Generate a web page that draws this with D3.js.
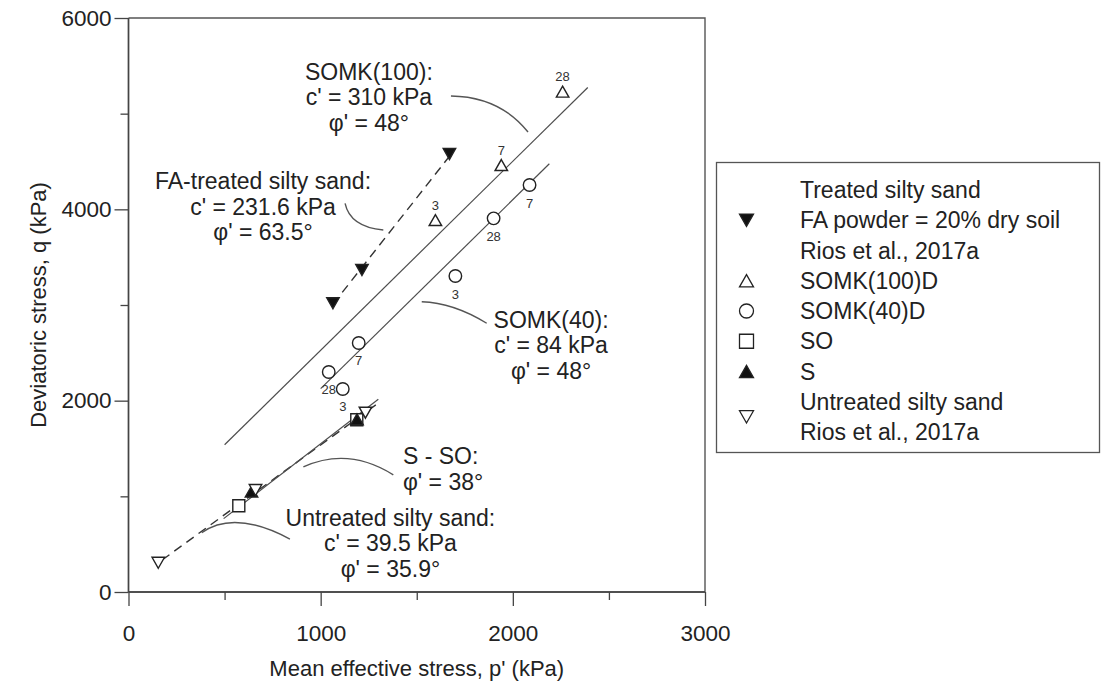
<!DOCTYPE html>
<html>
<head>
<meta charset="utf-8">
<script src="https://cdn.jsdelivr.net/npm/d3@7"></script>
<style>
  html, body { margin: 0; padding: 0; background: #fff; }
  svg { display: block; font-family: "Liberation Sans", Arial, sans-serif; }
</style>
</head>
<body>
<svg id="chart" width="1103" height="686"></svg>
<script>
// ---- Measured points (p' in kPa, q in kPa); age = curing days ----
const faTreated = [
  { p: 1064, q: 3018 }, { p: 1215, q: 3366 }, { p: 1670, q: 4578 }
];
const somk100 = [
  { p: 1597, q: 3888, age: "3" }, { p: 1940, q: 4463, age: "7" }, { p: 2259, q: 5230, age: "28" }
];
const somk40 = [
  { p: 1042, q: 2300, age: "28" }, { p: 1115, q: 2122, age: "3" }, { p: 1198, q: 2603, age: "7" },
  { p: 1701, q: 3303, age: "3" }, { p: 1900, q: 3906, age: "28" }, { p: 2087, q: 4254, age: "7" }
];
const soPoints = [ { p: 574, q: 902 }, { p: 1188, q: 1800 } ];
const sPoints = [ { p: 640, q: 1050 }, { p: 1189, q: 1805 } ];
const untreated = [ { p: 155, q: 306 }, { p: 661, q: 1066 }, { p: 1233, q: 1874 } ];

// ---- Failure envelopes: cohesion c' (kPa), friction angle phi' (deg), p' extent ----
const envelopes = [
  { name: "SOMK(100)", c: 310, phi: 48, pFrom: 500, pTo: 2390, dashed: false },
  { name: "SOMK(40)", c: 84, phi: 48, pFrom: 1000, pTo: 2190, dashed: false },
  { name: "FA-treated", c: 231.6, phi: 63.5, pFrom: 1064, pTo: 1670, dashed: true },
  { name: "Untreated", c: 39.5, phi: 35.9, pFrom: 175, pTo: 1290, dashed: true },
  { name: "S - SO", c: 0, phi: 38, pFrom: 495, pTo: 1300, dashed: false }
];

// ---- Axis ticks ----
const xTicksMajor = [0, 1000, 2000, 3000];
const xTicksMinor = [500, 1500, 2500];
const yTicksMajor = [0, 2000, 4000, 6000];
const yTicksMinor = [1000, 3000, 5000];

// ---- Envelope annotations (anchor in p'/q units) and their leader curves ----
const annotations = [
  { lines: ["SOMK(100):", "c' = 310 kPa", "\u03C6' = 48\u00B0"], p: 1251, q: 5352, anchor: "middle" },
  { lines: ["FA-treated silty sand:", "c' = 231.6 kPa", "\u03C6' = 63.5\u00B0"], p: 700, q: 4212, anchor: "middle" },
  { lines: ["SOMK(40):", "c' = 84 kPa", "\u03C6' = 48\u00B0"], p: 2199, q: 2760, anchor: "middle" },
  { lines: ["S - SO:", "\u03C6' = 38\u00B0"], p: 1428, q: 1333, anchor: "start" },
  { lines: ["Untreated silty sand:", "c' = 39.5 kPa", "\u03C6' = 35.9\u00B0"], p: 1363, q: 690, anchor: "middle" }
];
const leaders = [
  [[1678, 5185], [1933, 5177], [2079, 4808]],
  [[1127, 4063], [1153, 3818], [1326, 3784]],
  [[1526, 3034], [1690, 3024], [1864, 2809]],
  [[910, 1308], [1144, 1521], [1378, 1225]],
  [[381, 620], [550, 864], [840, 553]]
];

// ---- Legend entries ----
const legendEntries = [
  { shape: "triDownFilled", lines: ["Treated silty sand", "FA powder = 20% dry soil", "Rios et al., 2017a"] },
  { shape: "triUp", lines: ["SOMK(100)D"] },
  { shape: "circle", lines: ["SOMK(40)D"] },
  { shape: "square", lines: ["SO"] },
  { shape: "triUpFilled", lines: ["S"] },
  { shape: "triDown", lines: ["Untreated silty sand", "Rios et al., 2017a"] }
];

const svg = d3.select("#chart");
const ink = "#222";
const lineGrey = "#4d4d4d";

const x = d3.scaleLinear().domain([0, 3000]).range([128.5, 705]);
const y = d3.scaleLinear().domain([0, 6000]).range([592, 18]);

// ---- Frame (top / right) ----
svg.append("path")
  .attr("d", `M${x(0)},${y(6000)}H${x(3000)}V${y(0)}`)
  .attr("fill", "none").attr("stroke", "#555").attr("stroke-width", 1.4);

// ---- Axes ----
const xAxis = svg.append("g").attr("transform", `translate(0,${y(0)})`);
xAxis.call(d3.axisBottom(x).tickValues(xTicksMajor).tickSize(14).tickPadding(19).tickFormat(d3.format("d")));
xAxis.append("g").call(d3.axisBottom(x).tickValues(xTicksMinor).tickSize(8).tickFormat(""));
const yAxis = svg.append("g").attr("transform", `translate(${x(0)},0)`);
yAxis.call(d3.axisLeft(y).tickValues(yTicksMajor).tickSize(14).tickPadding(3).tickFormat(d3.format("d")));
yAxis.append("g").call(d3.axisLeft(y).tickValues(yTicksMinor).tickSize(8).tickFormat(""));
svg.selectAll(".domain").attr("stroke", "#444").attr("stroke-width", 1.4);
svg.selectAll(".tick line").attr("stroke", "#444").attr("stroke-width", 1.3);
svg.selectAll(".tick text").attr("font-size", 22.5).attr("fill", ink)
  .attr("font-family", "Liberation Sans, Arial, sans-serif");
// keep axis lines to the data extent (no outer ticks)
xAxis.selectAll(".domain").attr("d", `M${x(0)},0H${x(3000)}`);
yAxis.selectAll(".domain").attr("d", `M0,${y(0)}V${y(6000)}`);

svg.append("text")
  .attr("x", (x(0) + x(3000)) / 2).attr("y", 676)
  .attr("text-anchor", "middle").attr("font-size", 22).attr("fill", ink)
  .text("Mean effective stress, p' (kPa)");
svg.append("text")
  .attr("transform", `translate(46,${(y(0) + y(6000)) / 2}) rotate(-90)`)
  .attr("text-anchor", "middle").attr("font-size", 22).attr("fill", ink)
  .text("Deviatoric stress, q (kPa)");

// ---- Envelopes: q = c'·6cosφ/(3−sinφ) + p'·6sinφ/(3−sinφ) ----
function envelopeQ(env, p) {
  const r = env.phi * Math.PI / 180;
  const s = Math.sin(r), c = Math.cos(r);
  return env.c * 6 * c / (3 - s) + p * 6 * s / (3 - s);
}
const lineGen = d3.line().x(d => x(d[0])).y(d => y(d[1]));
svg.append("g").selectAll("path").data(envelopes).join("path")
  .attr("d", e => lineGen([[e.pFrom, envelopeQ(e, e.pFrom)], [e.pTo, envelopeQ(e, e.pTo)]]))
  .attr("fill", "none")
  .attr("stroke", e => e.dashed ? "#333" : lineGrey)
  .attr("stroke-width", e => e.dashed ? 1.4 : 1.2)
  .attr("stroke-dasharray", e => e.dashed ? "9,6" : null);

// ---- Leader curves ----
svg.append("g").selectAll("path").data(leaders).join("path")
  .attr("d", L => `M${x(L[0][0])},${y(L[0][1])}Q${x(L[1][0])},${y(L[1][1])} ${x(L[2][0])},${y(L[2][1])}`)
  .attr("fill", "none").attr("stroke", "#555").attr("stroke-width", 1.4);

// ---- Annotation text ----
const annG = svg.append("g");
annotations.forEach(a => {
  const t = annG.append("text")
    .attr("x", x(a.p)).attr("y", y(a.q))
    .attr("text-anchor", a.anchor).attr("font-size", 23).attr("fill", ink);
  a.lines.forEach((ln, i) => {
    t.append("tspan").attr("x", x(a.p)).attr("dy", i === 0 ? 0 : 25.5).text(ln);
  });
});

// ---- Marker shapes ----
function markerPath(shape, size) {
  const w = size, h = size * 0.88, hw = w / 2, hh = h / 2;
  switch (shape) {
    case "triUp": case "triUpFilled":
      return `M0,${-hh}L${hw},${hh}L${-hw},${hh}Z`;
    case "triDown": case "triDownFilled":
      return `M0,${hh}L${hw},${-hh}L${-hw},${-hh}Z`;
    case "square":
      return `M${-hw},${-hw}H${hw}V${hw}H${-hw}Z`;
    case "circle":
      return d3.arc()({ innerRadius: 0, outerRadius: hw, startAngle: 0, endAngle: 2 * Math.PI });
  }
}
function drawMarkers(data, shape, size) {
  const filled = /Filled/.test(shape);
  svg.append("g").selectAll("path").data(data).join("path")
    .attr("transform", d => `translate(${x(d.p)},${y(d.q)})`)
    .attr("d", markerPath(shape, size))
    .attr("fill", filled ? "#111" : "#fff")
    .attr("stroke", "#222").attr("stroke-width", 1.4);
}
drawMarkers(untreated.slice(0, 1), "triDown", 12.5);
drawMarkers(soPoints, "square", 12);
drawMarkers(sPoints, "triUpFilled", 12.5);
drawMarkers(untreated.slice(1), "triDown", 12.5);
drawMarkers(somk40, "circle", 12.5);
drawMarkers(somk100, "triUp", 12.5);
drawMarkers(faTreated, "triDownFilled", 12.5);

// ---- Curing-age labels ----
function ageLabels(data, dy) {
  svg.append("g").selectAll("text").data(data).join("text")
    .attr("x", d => x(d.p)).attr("y", d => y(d.q) + dy)
    .attr("text-anchor", "middle").attr("font-size", 13).attr("fill", "#333")
    .text(d => d.age);
}
ageLabels(somk100, -10.5);
ageLabels(somk40, 22.5);

// ---- Legend ----
const leg = svg.append("g");
leg.append("rect").attr("x", 716.5).attr("y", 162.5).attr("width", 383).attr("height", 290)
  .attr("fill", "#fff").attr("stroke", "#555").attr("stroke-width", 1.3);
let row = 0;
const rowPitch = 30.25, firstRow = 190, symX = 746.5, textX = 800;
legendEntries.forEach(e => {
  const centers = e.lines.map((_, i) => firstRow + (row + i) * rowPitch);
  const symY = d3.mean(centers);
  const filled = /Filled/.test(e.shape);
  leg.append("path")
    .attr("transform", `translate(${symX},${symY})`)
    .attr("d", markerPath(e.shape, 14))
    .attr("fill", filled ? "#111" : "#fff")
    .attr("stroke", "#222").attr("stroke-width", 1.3);
  e.lines.forEach((ln, i) => {
    leg.append("text").attr("x", textX).attr("y", centers[i] + 8.2)
      .attr("font-size", 23).attr("fill", ink).text(ln);
  });
  row += e.lines.length;
});
</script>
</body>
</html>
